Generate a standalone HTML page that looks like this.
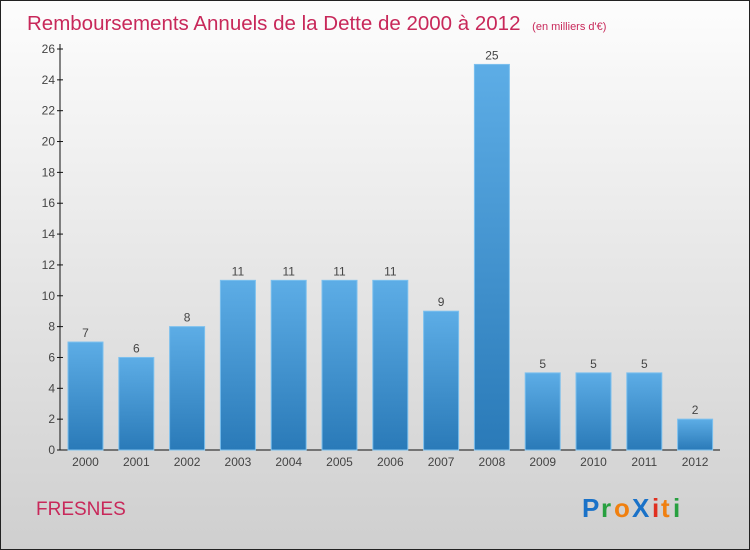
<!DOCTYPE html>
<html><head><meta charset="utf-8"><style>
body{margin:0;width:750px;height:550px;overflow:hidden}
svg{display:block;font-family:"Liberation Sans",sans-serif}
</style></head><body>
<svg id="c" width="750" height="550">
<defs>
<linearGradient id="bg" x1="0" y1="0" x2="0" y2="1"><stop offset="0" stop-color="#fdfdfd"/><stop offset="1" stop-color="#cfcfcf"/></linearGradient>
<linearGradient id="bar" x1="0" y1="0" x2="0" y2="1"><stop offset="0" stop-color="#5dade6"/><stop offset="1" stop-color="#2a7ab8"/></linearGradient>
</defs>
<rect x="0.5" y="0.5" width="749" height="549" fill="url(#bg)" stroke="#222"/>
<text x="27" y="30" font-size="20.5" fill="#c8285a">Remboursements Annuels de la Dette de 2000 à 2012 <tspan font-size="11" dx="6">(en milliers d'€)</tspan></text>
<text x="36" y="515" font-size="19" fill="#c8285a">FRESNES</text>
<g font-size="26" font-weight="bold">
<text x="582" y="517" fill="#1a72c8">P</text><text x="601" y="517" fill="#28a040">r</text><text x="614" y="517" fill="#f08010">o</text><text x="632" y="517" fill="#1a72c8">X</text><text x="652" y="517" fill="#e03020">i</text><text x="661" y="517" fill="#f08010">t</text><text x="673" y="517" fill="#28a040">i</text>
</g>
<g id="plot"></g>
</svg>
<script>
const categories=["2000","2001","2002","2003","2004","2005","2006","2007","2008","2009","2010","2011","2012"];
const values=[7,6,8,11,11,11,11,9,25,5,5,5,2];
const yTicks=[0,2,4,6,8,10,12,14,16,18,20,22,24,26];
const ns="http://www.w3.org/2000/svg";
const g=document.getElementById('plot');
const y=v=>450-v*(401/26);
const x=i=>68+i*50.8;
function mk(t,a,p){const e=document.createElementNS(ns,t);for(const k in a)e.setAttribute(k,a[k]);(p||g).appendChild(e);return e;}
let ax=mk('line',{x1:60,y1:450,x2:720,y2:450,stroke:'#111'});


let ay=mk('line',{x1:60,y1:44,x2:60,y2:450,stroke:'#111'});


yTicks.forEach(v=>{
 mk('line',{x1:57,y1:y(v),x2:63,y2:y(v),stroke:'#111'});
 const t=mk('text',{x:55,y:y(v)+4,'text-anchor':'end','font-size':12,fill:'#444'});t.textContent=v;
 
 
});
values.forEach((v,i)=>{
 const r=mk('rect',{x:x(i),y:y(v),width:35,height:450-y(v),fill:'url(#bar)',stroke:'#7cc0ee','stroke-width':1});
 
 
 const l=mk('text',{x:x(i)+17.5,y:y(v)-5,'text-anchor':'middle','font-size':12,fill:'#444'});l.textContent=v;
 
 
 const c=mk('text',{x:x(i)+17.5,y:466,'text-anchor':'middle','font-size':12,fill:'#444'});c.textContent=categories[i];
 
 
});
</script>
</body></html>
